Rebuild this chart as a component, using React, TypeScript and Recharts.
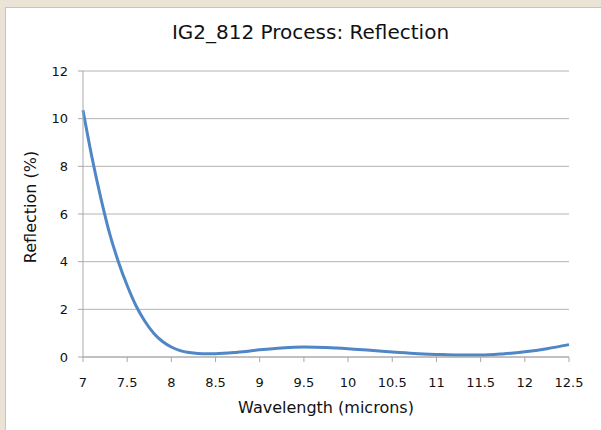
import React from 'react';
import { LineChart, Line, XAxis, YAxis, CartesianGrid, Label } from 'recharts';

const wavelengths = [7.0, 7.1, 7.2, 7.3, 7.4, 7.5, 7.6, 7.7, 7.8, 7.9, 8.0, 8.1, 8.2, 8.3, 8.4, 8.5, 8.75, 9.0, 9.25, 9.5, 9.75, 10.0, 10.25, 10.5, 10.75, 11.0, 11.25, 11.5, 11.75, 12.0, 12.25, 12.5];
const reflection = [10.35, 8.4, 6.7, 5.2, 4.0, 3.0, 2.15, 1.5, 1.0, 0.65, 0.42, 0.27, 0.19, 0.15, 0.14, 0.14, 0.2, 0.3, 0.38, 0.42, 0.4, 0.35, 0.28, 0.21, 0.15, 0.11, 0.08, 0.08, 0.13, 0.22, 0.35, 0.52];
const xTicks = [7, 7.5, 8, 8.5, 9, 9.5, 10, 10.5, 11, 11.5, 12, 12.5];
const yTicks = [0, 2, 4, 6, 8, 10, 12];

const data = wavelengths.map((x, i) => ({ x, y: reflection[i] }));

const FONT = '"DejaVu Sans", Verdana, sans-serif';

const YTitle = (props: any) => {
  const vb = props.viewBox || { x: 33, y: 71, width: 50, height: 286 };
  const cx = vb.x - 2.5;
  const cy = vb.y + vb.height / 2 - 7;
  return (
    <text x={cx} y={cy} transform={`rotate(-90, ${cx}, ${cy})`} textAnchor="middle" dominantBaseline="central" style={{ fill: '#111', fontSize: 16, fontFamily: FONT }}>
      Reflection (%)
    </text>
  );
};

export default function App() {
  return (
    <div style={{ position: 'absolute', left: 0, top: 0, width: 601, height: 430, background: '#ece3d7', overflow: 'hidden' }}>
      <div style={{ position: 'absolute', left: 5, top: 7, right: -2, bottom: -2, background: '#fff', borderLeft: '1px solid #c9c3bb', borderTop: '1px solid #c9c3bb' }} />
      <div style={{ position: 'absolute', left: 0, top: 19, width: 601, textAlign: 'center', fontFamily: FONT, fontSize: 20, color: '#111', lineHeight: '26px' }}>
        <span style={{ position: 'relative', left: 10 }}>IG2_812 Process: Reflection</span>
      </div>
      <div style={{ position: 'absolute', left: 0, top: 0 }}>
        <LineChart width={601} height={430} data={data} margin={{ top: 71, right: 32, bottom: 20, left: 33 }}>
          <CartesianGrid vertical={false} stroke="#b4b4b4" strokeWidth={1} />
          <XAxis
            dataKey="x"
            type="number"
            domain={[7, 12.5]}
            ticks={xTicks}
            interval={0}
            height={53}
            stroke="#a8a8a8"
            tickSize={5}
            tickMargin={16}
            tick={{ fill: '#111', fontSize: 13, fontFamily: FONT }}
          >
            <Label value="Wavelength (microns)" position="insideBottom" offset={-3} style={{ fill: '#111', fontSize: 16, fontFamily: FONT }} />
          </XAxis>
          <YAxis
            type="number"
            domain={[0, 12]}
            ticks={yTicks}
            interval={0}
            width={50}
            stroke="#a8a8a8"
            tickSize={5}
            tickMargin={10}
            tick={{ fill: '#111', fontSize: 13, fontFamily: FONT }}
          >
            <Label content={<YTitle />} />
          </YAxis>
          <Line type="monotone" dataKey="y" stroke="#4f86c6" strokeWidth={3} dot={false} isAnimationActive={false} />
        </LineChart>
      </div>
    </div>
  );
}
